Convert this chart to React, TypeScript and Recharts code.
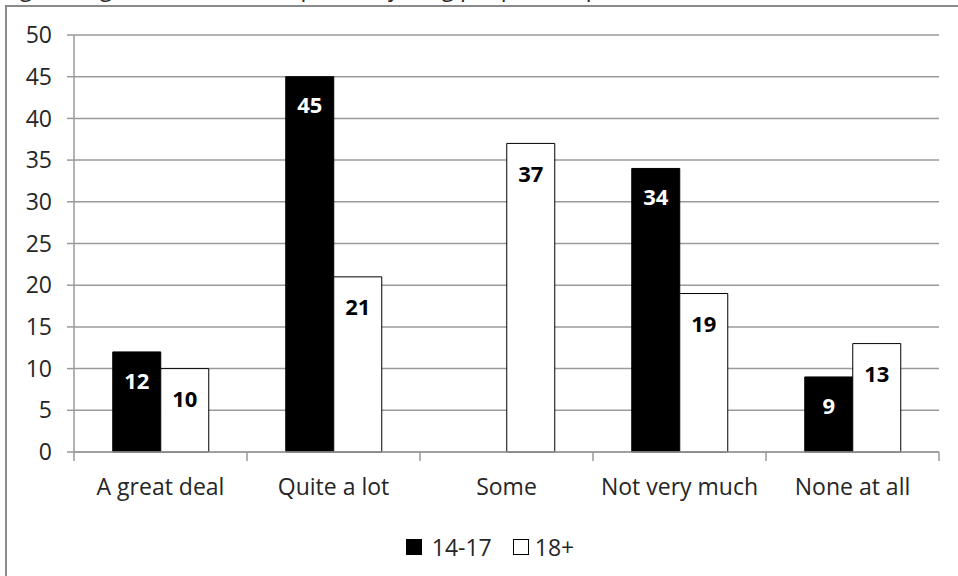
import React from 'react';
import { BarChart, Bar, XAxis, YAxis, CartesianGrid, Legend, LabelList } from 'recharts';

const categories = ['A great deal', 'Quite a lot', 'Some', 'Not very much', 'None at all'];
const teens = [12, 45, 0, 34, 9];
const adults = [10, 21, 37, 19, 13];
const yTicks = [0, 5, 10, 15, 20, 25, 30, 35, 40, 45, 50];
const seriesNames = ['14-17', '18+'];
const titleText = 'Figure 1: general interest in politics, young people compared to adults (%)';

const data = categories.map((name, i) => ({ name, teens: teens[i], adults: adults[i] }));

const FONT = "'Open Sans', sans-serif";
const GRID = '#9a9a9a';
const TEXT = '#262626';

function CategoryTick(props: any) {
  const { x, y, payload, index, visibleTicksCount, width } = props;
  const half = payload && payload.offset ? payload.offset : width / visibleTicksCount / 2;
  return (
    <g>
      <line x1={x - half} x2={x - half} y1={y} y2={y + 9} stroke={GRID} strokeWidth={1.5} />
      {index === visibleTicksCount - 1 && (
        <line x1={x + half} x2={x + half} y1={y} y2={y + 9} stroke={GRID} strokeWidth={1.5} />
      )}
      <text x={x} y={y + 27} dy="0.71em" textAnchor="middle" fill={TEXT} fontSize={23} fontFamily={FONT}>
        {payload.value}
      </text>
    </g>
  );
}

function renderLegend(props: any) {
  const { payload } = props;
  return (
    <div
      style={{
        height: 40,
        display: 'flex',
        alignItems: 'center',
        justifyContent: 'center',
        paddingLeft: 41,
        fontFamily: FONT,
        fontSize: 23,
        color: TEXT,
      }}
    >
      {(payload || []).map((p: any, i: number) => (
        <div key={i} style={{ display: 'flex', alignItems: 'center', marginLeft: i === 0 ? 0 : 21 }}>
          <span
            style={{
              display: 'inline-block',
              width: 14,
              height: 14,
              background: i === 0 ? '#000' : '#fff',
              border: '1px solid #000',
              marginRight: i === 0 ? 10 : 6,
            }}
          />
          <span>{p.value}</span>
        </div>
      ))}
    </div>
  );
}

const hideZero = (v: any) => (v === 0 || v === null ? '' : v);

export default function App() {
  return (
    <div
      style={{
        position: 'absolute',
        left: 0,
        top: 0,
        width: 958,
        height: 576,
        overflow: 'hidden',
        background: '#fff',
        fontFamily: FONT,
      }}
    >
      <div
        style={{
          position: 'absolute',
          left: 2,
          top: -29,
          fontSize: 23,
          color: TEXT,
          whiteSpace: 'nowrap',
        }}
      >
        {titleText}
      </div>
      <div
        style={{
          position: 'absolute',
          left: 5,
          top: 5,
          width: 1000,
          height: 1000,
          border: '2px solid #8a8a8a',
        }}
      />
      <div style={{ position: 'absolute', left: 0, top: 0 }}>
        <BarChart
          width={958}
          height={576}
          data={data}
          margin={{ top: 35, right: 19, left: 0, bottom: 9 }}
          barCategoryGap="22.4%"
          barGap={0}
        >
          <CartesianGrid vertical={false} stroke={GRID} strokeWidth={1.5} />
          <XAxis
            dataKey="name"
            height={75}
            interval={0}
            tickLine={false}
            tickSize={0}
            tickMargin={0}
            axisLine={{ stroke: GRID, strokeWidth: 1.5 }}
            tick={<CategoryTick />}
          />
          <YAxis
            width={74}
            domain={[0, 50]}
            ticks={yTicks}
            interval={0}
            tickSize={7}
            tickMargin={15}
            axisLine={{ stroke: GRID, strokeWidth: 1.5 }}
            tickLine={{ stroke: GRID, strokeWidth: 1.5 }}
            tick={{ fill: TEXT, fontSize: 23, fontFamily: FONT }}
          />
          <Legend verticalAlign="bottom" content={renderLegend} />
          <Bar dataKey="teens" name={seriesNames[0]} fill="#000" stroke="#000" isAnimationActive={false}>
            <LabelList
              dataKey="teens"
              position="insideTop"
              offset={21}
              formatter={hideZero}
              fill="#fff"
              fontSize={22}
              fontWeight="bold"
              fontFamily={FONT}
            />
          </Bar>
          <Bar dataKey="adults" name={seriesNames[1]} fill="#fff" stroke="#000" isAnimationActive={false}>
            <LabelList
              dataKey="adults"
              position="insideTop"
              offset={23}
              formatter={hideZero}
              fill="#000"
              fontSize={22}
              fontWeight="bold"
              fontFamily={FONT}
            />
          </Bar>
        </BarChart>
      </div>
    </div>
  );
}
